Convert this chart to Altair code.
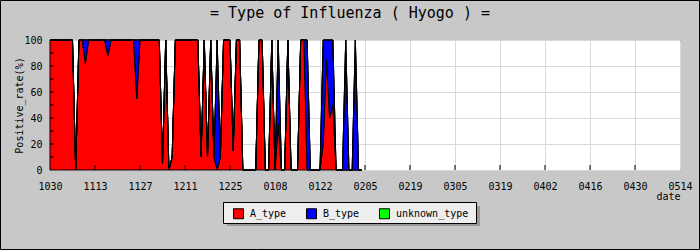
import altair as alt
import pandas as pd

# ---- data ----
days = list(range(98))  # day 0 = 10/30

a_type = [
    100, 100, 100, 100, 100, 100, 100, 100, 0, 100, 100, 82, 100, 100,
    100, 100, 100, 100, 88, 100, 100, 100, 100, 100, 100, 100, 100, 55,
    100, 100, 100, 100, 100, 100, 100, 5, 100, 0, 10, 100, 100, 100,
    100, 100, 100, 100, 100, 10, 100, 10, 100, 10, 0, 10, 100, 100,
    100, 15, 100, 100, 0, 0, 0, 0, 0, 100, 100, 0, 0, 100,
    0, 35, 0, 0, 100, 0, 0, 0, 100, 100, 0, 0, 0, 0,
    0, 20, 85, 40, 50, 0, 0, 0, 0, 0, 0, 0, 0, 0,
]
b_type = [
    0, 0, 0, 0, 0, 0, 0, 0, 0, 0, 0, 18, 0, 0,
    0, 0, 0, 0, 12, 0, 0, 0, 0, 0, 0, 0, 0, 45,
    0, 0, 0, 0, 0, 0, 0, 0, 0, 0, 0, 0, 0, 0,
    0, 0, 0, 0, 0, 0, 0, 0, 0, 0, 100, 0, 0, 0,
    0, 0, 0, 0, 0, 0, 0, 0, 0, 0, 0, 0, 0, 0,
    0, 65, 0, 0, 0, 0, 0, 0, 0, 0, 100, 0, 0, 0,
    0, 80, 15, 60, 50, 0, 0, 0, 100, 0, 0, 100, 0, 0,
]
unknown_type = [
    0, 0, 0, 0, 0, 0, 0, 0, 0, 0, 0, 0, 0, 0,
    0, 0, 0, 0, 0, 0, 0, 0, 0, 0, 0, 0, 0, 0,
    0, 0, 0, 0, 0, 0, 0, 0, 0, 0, 0, 0, 0, 0,
    0, 0, 0, 0, 0, 0, 0, 0, 0, 0, 0, 0, 0, 0,
    0, 0, 0, 0, 0, 0, 0, 0, 0, 0, 0, 0, 0, 0,
    0, 0, 0, 0, 0, 0, 0, 0, 0, 0, 0, 0, 0, 0,
    0, 0, 0, 0, 0, 0, 0, 0, 0, 0, 0, 0, 0, 0,
]

series_names = ["A_type", "B_type", "unknown_type"]
series_colors = ["#ff0000", "#0000ff", "#00ff00"]

tick_days = [0, 14, 28, 42, 56, 70, 84, 98, 112, 126, 140, 154, 168, 182, 196]
tick_labels = ["1030", "1113", "1127", "1211", "1225", "0108", "0122", "0205",
               "0219", "0305", "0319", "0402", "0416", "0430", "0514"]
y_labels = [0, 20, 40, 60, 80, 100]
y_minor = [10, 20, 30, 40, 50, 60, 70, 80, 90]

FONT = "DejaVu Sans Mono"

rows = []
for i, d in enumerate(days):
    for k, (name, vals) in enumerate(zip(series_names, [a_type, b_type, unknown_type])):
        rows.append({"day": d, "type": name, "rate": vals[i], "ord": k})
df = pd.DataFrame(rows)

x_scale = alt.Scale(domain=[0, 196], nice=False, zero=False)
y_scale = alt.Scale(domain=[0, 100], nice=False)

label_expr = "[" + ",".join(f"'{t}'" for t in tick_labels) + "][round(datum.value/14)]"

x_axis = alt.Axis(values=tick_days, labelExpr=label_expr, title="date",
                  labelFlush=False, labelOverlap=False, labelPadding=11,
                  labelFont=FONT, labelFontSize=10, labelColor="black",
                  titleFont=FONT, titleFontSize=10, titleFontWeight="normal",
                  titleColor="black", titleX=630, titleY=26, titleAlign="right",
                  titleBaseline="middle", grid=True)
y_axis = alt.Axis(values=y_labels, title="Positive_rate(%)", labelPadding=8,
                  labelOverlap=False, labelFlush=False,
                  labelFont=FONT, labelFontSize=10, labelColor="black",
                  titleFont=FONT, titleFontSize=10, titleFontWeight="normal",
                  titleColor="black", titleX=-31, titleY=65, titleAngle=270,
                  titleAlign="center", titleBaseline="middle", grid=True)

area = alt.Chart(df).mark_area(
    interpolate="linear", stroke="black", strokeWidth=1, opacity=1, fillOpacity=1
).encode(
    x=alt.X("day:Q", scale=x_scale, axis=x_axis),
    y=alt.Y("rate:Q", stack="zero", scale=y_scale, axis=y_axis),
    color=alt.Color("type:N", scale=alt.Scale(domain=series_names, range=series_colors),
                    legend=alt.Legend(orient="none", legendX=183, legendY=168,
                                      direction="horizontal", title=None,
                                      symbolType="square", symbolSize=100,
                                      symbolStrokeColor="black", symbolStrokeWidth=1,
                                      symbolOpacity=1, labelFont=FONT, labelFontSize=10,
                                      labelColor="black", labelOffset=6,
                                      columnPadding=17, padding=0)),
    order=alt.Order("ord:Q", sort="ascending"),
)

ytick = alt.Chart(pd.DataFrame({"v": y_minor})).mark_rule(color="black").encode(
    y=alt.Y("v:Q", scale=y_scale, axis=y_axis), x=alt.value(0), x2=alt.value(4))
xtick = alt.Chart(pd.DataFrame({"d": tick_days[1:-1]})).mark_rule(color="black").encode(
    x=alt.X("d:Q", scale=x_scale, axis=x_axis), y=alt.value(125), y2=alt.value(130))

one = pd.DataFrame({"k": [0]})
border = alt.Chart(one).mark_rect(fillOpacity=0, stroke="black", strokeWidth=1).encode(
    x=alt.value(-49.5), x2=alt.value(649.5), y=alt.value(-39.5), y2=alt.value(209.5))
shadow = alt.Chart(one).mark_rect(color="#9a9a9a").encode(
    x=alt.value(177), x2=alt.value(430), y=alt.value(166), y2=alt.value(186))
box = alt.Chart(one).mark_rect(fill="#eeeeee", stroke="black", strokeWidth=1).encode(
    x=alt.value(173.5), x2=alt.value(426.5), y=alt.value(162.5), y2=alt.value(183.5))

chart = alt.layer(area, ytick, xtick, border, shadow, box).properties(
    width=630, height=130,
    padding={"left": 50, "top": 40, "right": 20, "bottom": 80},
    autosize=alt.AutoSizeParams(type="none"),
    background="#c8c8c8",
    title=alt.Title("= Type of Influenza ( Hyogo ) =", font=FONT, fontSize=15,
                    fontWeight="normal", color="black", anchor="middle", dx=-15,
                    dy=54.5, offset=22, baseline="alphabetic"),
).configure_view(
    fill="white", stroke="black", strokeWidth=1
).configure_axis(
    domain=False, ticks=False, tickSize=0, gridColor="#d9d9d9", gridWidth=1
)

chart.save("out.html", embed_options={"renderer": "svg", "actions": False})
